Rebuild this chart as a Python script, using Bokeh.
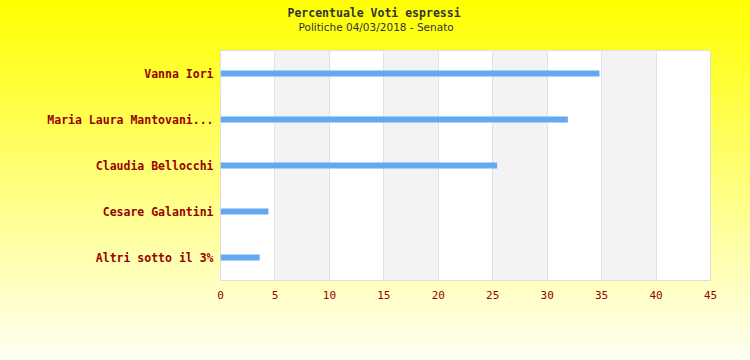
from bokeh.plotting import figure
from bokeh.models import ColumnDataSource, Title, FixedTicker
from bokeh.embed import file_html
from bokeh.resources import INLINE

categories = ["Vanna Iori", "Maria Laura Mantovani...", "Claudia Bellocchi",
              "Cesare Galantini", "Altri sotto il 3%"]
values = [34.8, 31.9, 25.4, 4.4, 3.6]
x_ticks = [0, 5, 10, 15, 20, 25, 30, 35, 40, 45]
title_text = "Percentuale Voti espressi"
subtitle_text = "Politiche 04/03/2018 - Senato"

src = ColumnDataSource(dict(cat=categories, val=values))

p = figure(width=750, height=360, y_range=list(reversed(categories)),
           x_range=(0, 45), output_backend="svg", toolbar_location=None,
           title=None,
           min_border_left=220, min_border_right=40, min_border_top=50,
           min_border_bottom=80)

p.styles = {"background": "linear-gradient(to bottom, #ffff00 0%, #fffff4 100%)"}
p.border_fill_color = None
p.border_fill_alpha = 0
p.background_fill_color = "white"
p.outline_line_color = "#dddddd"
p.outline_line_width = 1

p.hbar(y="cat", right="val", left=0, height=0.13, source=src,
       fill_color="#63a8f0", line_color=None)

p.xaxis.ticker = FixedTicker(ticks=x_ticks)
p.xaxis.axis_line_color = None
p.xaxis.major_tick_line_color = None
p.xaxis.minor_tick_line_color = None
p.xaxis.major_tick_out = 0
p.xaxis.major_tick_in = 0
p.xaxis.minor_tick_out = 0
p.xaxis.major_label_standoff = 10
p.xaxis.major_label_text_font = "DejaVu Sans Mono"
p.xaxis.major_label_text_font_size = "11px"
p.xaxis.major_label_text_color = "#990000"

p.yaxis.axis_line_color = None
p.yaxis.major_tick_line_color = None
p.yaxis.minor_tick_line_color = None
p.yaxis.major_tick_out = 0
p.yaxis.major_tick_in = 0
p.yaxis.minor_tick_out = 0
p.yaxis.major_label_standoff = 7
p.yaxis.major_label_text_font = "DejaVu Sans Mono"
p.yaxis.major_label_text_font_style = "bold"
p.yaxis.major_label_text_font_size = "11.5px"
p.yaxis.major_label_text_color = "#990000"

p.ygrid.grid_line_color = None
p.xgrid.ticker = FixedTicker(ticks=x_ticks)
p.xgrid.grid_line_color = "#e2e2e2"
p.xgrid.grid_line_width = 1
p.xgrid.band_fill_color = "#f3f3f3"
p.xgrid.band_fill_alpha = 1.0

sub = Title(text=subtitle_text, align="left", offset=78, standoff=36,
            text_font="DejaVu Sans", text_font_size="10.5px",
            text_font_style="normal", text_color="#333333")
main = Title(text=title_text, align="left", offset=67, standoff=-38,
             text_font="DejaVu Sans Mono", text_font_size="11.5px",
             text_font_style="bold", text_color="#333333")
p.add_layout(sub, "above")
p.add_layout(main, "above")

open("out.html", "w").write(file_html(p, INLINE))
